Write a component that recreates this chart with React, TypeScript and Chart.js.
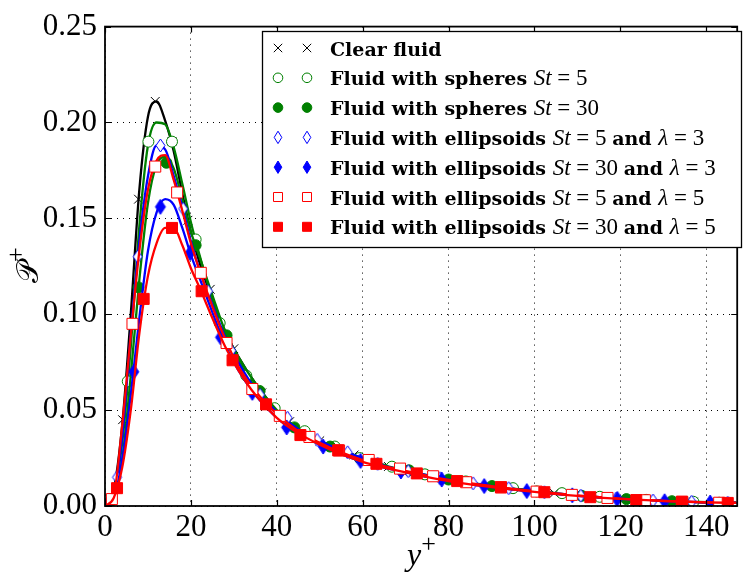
import React, { useEffect, useRef } from "react";
import { Chart, registerables } from "chart.js";

Chart.register(...registerables);

// ---------- axes ----------
const xTickValues = [0, 20, 40, 60, 80, 100, 120, 140];
const yTickValues = [0, 0.05, 0.1, 0.15, 0.2, 0.25];
const xMax = 147.2;
const yMax = 0.25;

// ---------- smooth curves (y+ grid and P+ values) ----------
const curveX = [0, 2, 4, 6, 8, 10, 12, 14, 16, 18, 20, 22, 25, 28, 31, 35, 40, 45, 50, 55, 60, 65, 70, 80, 90, 100, 110, 120, 130, 140, 147];
const clearY = [0, 0.008, 0.042, 0.1, 0.165, 0.203, 0.211, 0.201, 0.185, 0.163, 0.143, 0.127, 0.108, 0.091, 0.078, 0.064, 0.05, 0.04, 0.034, 0.029, 0.025, 0.021, 0.0185, 0.0138, 0.0105, 0.0078, 0.0055, 0.0038, 0.0027, 0.0019, 0.0016];
const sph5Y = [0, 0.006, 0.033, 0.083, 0.146, 0.188, 0.2, 0.199, 0.187, 0.168, 0.148, 0.131, 0.108, 0.09, 0.076, 0.062, 0.049, 0.04, 0.034, 0.029, 0.025, 0.0215, 0.0188, 0.014, 0.0106, 0.0079, 0.0056, 0.0039, 0.0028, 0.002, 0.0017];
const sph30Y = [0, 0.004, 0.024, 0.068, 0.118, 0.158, 0.178, 0.182, 0.176, 0.16, 0.143, 0.13, 0.11, 0.091, 0.078, 0.064, 0.05, 0.04, 0.034, 0.029, 0.025, 0.0212, 0.0186, 0.0139, 0.0105, 0.0078, 0.0055, 0.0038, 0.0027, 0.0019, 0.0016];
const ell5l3Y = [0, 0.006, 0.036, 0.09, 0.138, 0.172, 0.188, 0.186, 0.172, 0.156, 0.138, 0.123, 0.105, 0.088, 0.075, 0.061, 0.049, 0.04, 0.034, 0.029, 0.025, 0.021, 0.0185, 0.0137, 0.0104, 0.0077, 0.0055, 0.0038, 0.0027, 0.0019, 0.0016];
const ell30l3Y = [0, 0.004, 0.024, 0.058, 0.098, 0.133, 0.153, 0.16, 0.157, 0.145, 0.131, 0.119, 0.101, 0.084, 0.071, 0.058, 0.046, 0.038, 0.032, 0.027, 0.023, 0.02, 0.0175, 0.013, 0.0099, 0.0074, 0.0053, 0.0037, 0.0026, 0.0019, 0.0016];
const ell5l5Y = [0, 0.005, 0.042, 0.089, 0.133, 0.165, 0.18, 0.183, 0.17, 0.154, 0.137, 0.123, 0.104, 0.087, 0.073, 0.06, 0.048, 0.039, 0.033, 0.028, 0.024, 0.0208, 0.0183, 0.0136, 0.0104, 0.0077, 0.0055, 0.0038, 0.0027, 0.0019, 0.0016];
const ell30l5Y = [0, 0.004, 0.02, 0.05, 0.09, 0.12, 0.137, 0.145, 0.145, 0.136, 0.124, 0.114, 0.098, 0.083, 0.071, 0.058, 0.046, 0.038, 0.032, 0.027, 0.023, 0.02, 0.0175, 0.013, 0.0099, 0.0074, 0.0053, 0.0037, 0.0026, 0.0019, 0.0016];

// ---------- markers ----------
const clearMX = [0.4, 4.1, 7.8, 11.7, 15.6, 19.3, 24.5, 30, 36.5, 43, 50, 58, 66, 75, 84, 94, 104.6, 115, 126, 137];
const clearMY = [0.0002, 0.045, 0.16, 0.211, 0.19, 0.149, 0.113, 0.082, 0.059, 0.044, 0.034, 0.0266, 0.0206, 0.016, 0.0125, 0.0094, 0.0067, 0.0046, 0.0031, 0.0021];
const sph5MX = [0.8, 5.3, 10.1, 15.6, 21.1, 26.7, 32.9, 39.5, 46.5, 53.5, 59.3, 66.8, 74.5, 84, 95, 106.4, 115.2, 126, 137];
const sph5MY = [0.0008, 0.065, 0.19, 0.19, 0.139, 0.0954, 0.068, 0.051, 0.039, 0.031, 0.025, 0.0205, 0.0165, 0.0128, 0.0093, 0.0067, 0.0048, 0.0032, 0.0022];
const sph30MX = [1.5, 7.8, 14.3, 21.1, 28.3, 36, 44.1, 52.4, 61.4, 70.8, 80, 90.1, 100.5, 111, 121.4, 132, 143];
const sph30MY = [0.003, 0.114, 0.179, 0.136, 0.089, 0.06, 0.041, 0.031, 0.024, 0.0186, 0.0138, 0.0104, 0.0076, 0.0053, 0.0036, 0.0025, 0.0017];
const ell5l3MX = [2.8, 7.6, 12.9, 18.2, 24.0, 29.4, 36.1, 42.5, 49.4, 56.5, 63.5, 70.6, 78, 85.7, 94, 102.3, 110.8, 119, 127.6, 136.6, 145];
const ell5l3MY = [0.015, 0.13, 0.188, 0.155, 0.112, 0.081, 0.058, 0.046, 0.0345, 0.028, 0.022, 0.0182, 0.0145, 0.0118, 0.0093, 0.0072, 0.0054, 0.0039, 0.0029, 0.0022, 0.0017];
const ell30l3MX = [0.3, 6.7, 12.9, 19.8, 26.9, 34.3, 42.3, 50.8, 59.5, 68.9, 78.4, 88.3, 98.2, 108.8, 119.3, 130.3, 140.9];
const ell30l3MY = [0.0002, 0.07, 0.156, 0.132, 0.088, 0.059, 0.041, 0.031, 0.0235, 0.018, 0.0138, 0.0104, 0.0078, 0.0056, 0.0037, 0.0025, 0.0018];
const ell5l5MX = [1.6, 6.4, 11.7, 16.8, 22.3, 28.3, 34.3, 40.7, 47.6, 54.5, 61.4, 68.7, 76.4, 84.1, 92.2, 100.5, 108.7, 117, 125.7, 134.4, 143];
const ell5l5MY = [0.0036, 0.095, 0.177, 0.1635, 0.1216, 0.085, 0.061, 0.047, 0.036, 0.029, 0.024, 0.0195, 0.0155, 0.0124, 0.0097, 0.0075, 0.0058, 0.0042, 0.003, 0.0022, 0.0017];
const ell30l5MX = [2.8, 9.0, 15.6, 22.5, 29.7, 37.5, 45.5, 54.3, 63.2, 72.6, 82, 92.2, 102.3, 113, 123.7, 134.3, 145];
const ell30l5MY = [0.0093, 0.108, 0.145, 0.112, 0.076, 0.053, 0.037, 0.029, 0.022, 0.017, 0.013, 0.0098, 0.0072, 0.0046, 0.0031, 0.0022, 0.0016];

// ---------- legend labels (text, style: b bold / i italic math / r roman) ----------
const legendLabels: [string, string][][] = [
  [["Clear fluid", "b"]],
  [["Fluid with spheres ", "b"], ["St", "i"], [" = 5", "r"]],
  [["Fluid with spheres ", "b"], ["St", "i"], [" = 30", "r"]],
  [["Fluid with ellipsoids ", "b"], ["St", "i"], [" = 5 ", "r"], ["and ", "b"], ["λ", "i"], [" = 3", "r"]],
  [["Fluid with ellipsoids ", "b"], ["St", "i"], [" = 30 ", "r"], ["and ", "b"], ["λ", "i"], [" = 3", "r"]],
  [["Fluid with ellipsoids ", "b"], ["St", "i"], [" = 5 ", "r"], ["and ", "b"], ["λ", "i"], [" = 5", "r"]],
  [["Fluid with ellipsoids ", "b"], ["St", "i"], [" = 30 ", "r"], ["and ", "b"], ["λ", "i"], [" = 5", "r"]],
];

const curvesY = [clearY, sph5Y, sph30Y, ell5l3Y, ell30l3Y, ell5l5Y, ell30l5Y];
const marksX = [clearMX, sph5MX, sph30MX, ell5l3MX, ell30l3MX, ell5l5MX, ell30l5MX];
const marksY = [clearMY, sph5MY, sph30MY, ell5l3MY, ell30l3MY, ell5l5MY, ell30l5MY];

const colors = ["#000000", "#008000", "#008000", "#0000ff", "#0000ff", "#ff0000", "#ff0000"];
const kinds = ["x", "circleOpen", "circleFilled", "diamondOpen", "diamondFilled", "squareOpen", "squareFilled"];

const TICK_FONT = "'Liberation Serif', serif";
const BOLD_FONT = "'DejaVu Serif', serif";
const MATH_FONT = "'Liberation Serif', serif";

function makeDiamond(fill: string, stroke: string, w: number, h: number) {
  const c = document.createElement("canvas");
  c.width = w + 4;
  c.height = h + 4;
  const g = c.getContext("2d")!;
  const cx = c.width / 2;
  const cy = c.height / 2;
  g.beginPath();
  g.moveTo(cx, cy - h / 2);
  g.lineTo(cx + w / 2, cy);
  g.lineTo(cx, cy + h / 2);
  g.lineTo(cx - w / 2, cy);
  g.closePath();
  g.fillStyle = fill;
  g.fill();
  g.lineWidth = 1;
  g.strokeStyle = stroke;
  g.stroke();
  return c;
}

function drawMarker(ctx: CanvasRenderingContext2D, kind: string, color: string, x: number, y: number, s: number) {
  ctx.save();
  ctx.lineWidth = 1;
  ctx.strokeStyle = color;
  ctx.fillStyle = color;
  ctx.beginPath();
  if (kind === "x") {
    ctx.moveTo(x - s * 0.42, y - s * 0.42);
    ctx.lineTo(x + s * 0.42, y + s * 0.42);
    ctx.moveTo(x - s * 0.42, y + s * 0.42);
    ctx.lineTo(x + s * 0.42, y - s * 0.42);
    ctx.stroke();
  } else if (kind.startsWith("circle")) {
    ctx.arc(x, y, s * 0.48, 0, Math.PI * 2);
    if (kind === "circleOpen") ctx.fillStyle = "#ffffff";
    ctx.fill();
    ctx.stroke();
  } else if (kind.startsWith("square")) {
    const h = s * 0.45;
    ctx.rect(x - h, y - h, 2 * h, 2 * h);
    if (kind === "squareOpen") ctx.fillStyle = "#ffffff";
    ctx.fill();
    ctx.stroke();
  } else {
    const w = s * 0.38;
    const h = s * 0.62;
    ctx.moveTo(x, y - h);
    ctx.lineTo(x + w, y);
    ctx.lineTo(x, y + h);
    ctx.lineTo(x - w, y);
    ctx.closePath();
    if (kind === "diamondOpen") ctx.fillStyle = "#ffffff";
    ctx.fill();
    ctx.stroke();
  }
  ctx.restore();
}

const decorPlugin = {
  id: "decor",
  afterDraw(chart: any) {
    const ctx: CanvasRenderingContext2D = chart.ctx;
    const { left, right, top, bottom } = chart.chartArea;
    const xs = chart.scales.x;
    const ys = chart.scales.y;
    ctx.save();
    // inward ticks
    ctx.strokeStyle = "#000";
    ctx.lineWidth = 1.2;
    ctx.beginPath();
    xTickValues.forEach((v) => {
      const px = Math.round(xs.getPixelForValue(v)) + 0.5;
      ctx.moveTo(px, bottom);
      ctx.lineTo(px, bottom - 6);
      ctx.moveTo(px, top);
      ctx.lineTo(px, top + 6);
    });
    yTickValues.forEach((v) => {
      const py = Math.round(ys.getPixelForValue(v)) + 0.5;
      ctx.moveTo(left, py);
      ctx.lineTo(left + 6, py);
      ctx.moveTo(right, py);
      ctx.lineTo(right - 6, py);
    });
    ctx.stroke();
    // frame
    ctx.lineWidth = 1.8;
    ctx.strokeRect(left, top, right - left, bottom - top);

    // legend
    const lx = 262, ly = 31, lw = 479, lh = 216;
    ctx.fillStyle = "#ffffff";
    ctx.fillRect(lx, ly, lw, lh);
    ctx.lineWidth = 1.3;
    ctx.strokeStyle = "#000";
    ctx.strokeRect(lx + 0.5, ly + 0.5, lw, lh);
    legendLabels.forEach((parts, i) => {
      const cy = 48 + i * 29.8;
      drawMarker(ctx, kinds[i], colors[i], 278, cy, 10);
      drawMarker(ctx, kinds[i], colors[i], 307, cy, 10);
      let tx = 330;
      const base = cy + 7.6;
      ctx.fillStyle = "#000";
      ctx.textBaseline = "alphabetic";
      ctx.textAlign = "left";
      parts.forEach(([t, st]) => {
        if (st === "b") ctx.font = `bold 19px ${BOLD_FONT}`;
        else if (st === "i") ctx.font = `italic 23px ${MATH_FONT}`;
        else ctx.font = `23px ${MATH_FONT}`;
        ctx.fillText(t, tx, base);
        tx += ctx.measureText(t).width;
      });
    });

    // axis titles
    ctx.fillStyle = "#000";
    ctx.textAlign = "left";
    ctx.textBaseline = "alphabetic";
    ctx.font = `italic 32px ${MATH_FONT}`;
    const yw = ctx.measureText("y").width;
    const xt = (left + right) / 2 - (yw + 14) / 2;
    ctx.fillText("y", xt, 565);
    ctx.font = `26px ${MATH_FONT}`;
    ctx.fillText("+", xt + yw, 552);

    ctx.save();
    ctx.translate(38, 283);
    ctx.rotate(-Math.PI / 2);
    ctx.font = `30px 'DejaVu Serif', 'DejaVu Sans', serif`;
    ctx.fillText("𝒫", 0, 0);
    const pw = ctx.measureText("𝒫").width;
    ctx.font = `26px ${MATH_FONT}`;
    ctx.fillText("+", pw - 1, -14);
    ctx.restore();

    ctx.restore();
  },
};

export default function App() {
  const ref = useRef<HTMLCanvasElement>(null);
  useEffect(() => {
    document.body.style.margin = "0";
    const canvas = ref.current!;
    const styles: any = {
      x: "crossRot",
      circleOpen: "circle",
      circleFilled: "circle",
      diamondOpen: makeDiamond("#ffffff", "#0000ff", 9, 13),
      diamondFilled: makeDiamond("#0000ff", "#0000ff", 10, 15),
      squareOpen: "rect",
      squareFilled: "rect",
    };
    const radii: any = { x: 6.2, circleOpen: 5.5, circleFilled: 5.5, diamondOpen: 6, diamondFilled: 6, squareOpen: 7.8, squareFilled: 7.8 };
    const datasets: any[] = [];
    curvesY.forEach((ys, k) => {
      datasets.push({
        type: "line",
        data: curveX.map((x, i) => ({ x, y: ys[i] })),
        borderColor: colors[k],
        borderWidth: 2.3,
        pointRadius: 0,
        fill: false,
        cubicInterpolationMode: "monotone",
        order: 100 - 2 * k,
      });
      const kind = kinds[k];
      const open = kind.endsWith("Open");
      datasets.push({
        type: "line",
        showLine: false,
        data: marksX[k].map((x, i) => ({ x, y: marksY[k][i] })),
        pointStyle: styles[kind],
        pointRadius: radii[kind],
        pointBorderWidth: 1,
        pointBackgroundColor: open ? "#ffffff" : colors[k],
        pointBorderColor: colors[k],
        borderColor: colors[k],
        order: 99 - 2 * k,
      });
    });

    const chart = new Chart(canvas, {
      type: "line",
      data: { datasets },
      options: {
        responsive: false,
        animation: false,
        devicePixelRatio: 1,
        layout: { padding: { left: 0, right: 1, top: 21, bottom: 0 } },
        plugins: { legend: { display: false }, tooltip: { enabled: false } },
        scales: {
          x: {
            type: "linear",
            min: 0,
            max: xMax,
            afterBuildTicks: (s: any) => {
              s.ticks = xTickValues.map((v) => ({ value: v }));
            },
            afterFit: (s: any) => {
              s.height = 66;
            },
            ticks: {
              autoSkip: false,
              maxRotation: 0,
              color: "#000",
              padding: 3,
              font: { family: TICK_FONT, size: 31 },
              callback: (v: any) => String(v),
            },
            grid: { color: "#000", lineWidth: 1, drawTicks: false },
            border: { display: false, dash: [1, 5] },
          },
          y: {
            type: "linear",
            min: 0,
            max: yMax,
            afterBuildTicks: (s: any) => {
              s.ticks = yTickValues.map((v) => ({ value: v }));
            },
            afterFit: (s: any) => {
              s.width = 105;
            },
            ticks: {
              autoSkip: false,
              color: "#000",
              padding: 8,
              font: { family: TICK_FONT, size: 31 },
              callback: (v: any) => Number(v).toFixed(2),
            },
            grid: { color: "#000", lineWidth: 1, drawTicks: false },
            border: { display: false, dash: [1, 5] },
          },
        },
      },
      plugins: [decorPlugin],
    } as any);
    return () => chart.destroy();
  }, []);
  return (
    <div style={{ width: 746, height: 572 }}>
      <canvas ref={ref} width={746} height={572} style={{ display: "block" }} />
    </div>
  );
}
